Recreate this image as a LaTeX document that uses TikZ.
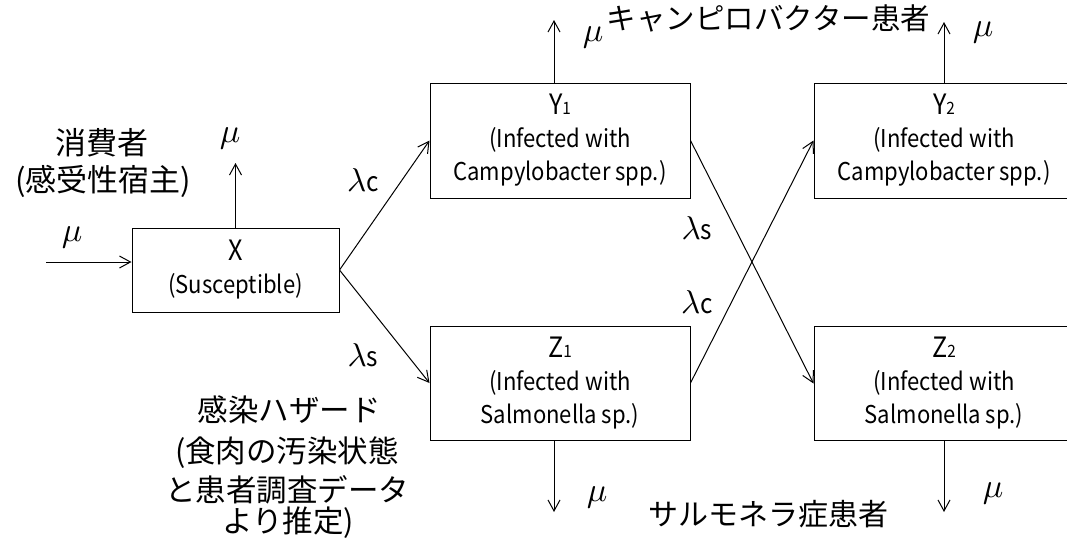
\documentclass[tikz,border=0pt]{standalone}
\usepackage{graphicx}
\usepackage{fontspec}
\newfontfamily\jp{Noto Sans CJK JP}
\newfontfamily\latn[FakeStretch=0.9]{Noto Sans CJK JP}
\usetikzlibrary{arrows.meta}
\newcommand{\boxfont}{\latn\fontsize{24.5}{33}\selectfont}
\newcommand{\titfnt}{\latn\fontsize{28}{33}\selectfont}
\newcommand{\subfnt}{\latn\fontsize{17}{17}\selectfont}
\newcommand{\mulab}{\scalebox{3.4}{$\mu$}}
\newcommand{\lamlab}[1]{\scalebox{3.3}{$\lambda$}{\latn\fontsize{27}{27}\selectfont #1}}
\begin{document}
\begin{tikzpicture}[x=1pt,y=-1pt,
  statebox/.style={draw, line width=1pt, inner sep=0pt, align=center, font=\boxfont},
  arr/.style={line width=1pt, -{Straight Barb[length=11pt,width=12pt,line width=1pt]}},
  lbl/.style={inner sep=0pt, anchor=center},
  jpl/.style={inner sep=0pt, anchor=center, align=center, font=\jp\fontsize{31}{38}\selectfont}]
\useasboundingbox (0,0) rectangle (1067,546);
\fill[white] (0,0) rectangle (1067,546);

% boxes
\node[statebox, minimum width=207pt, minimum height=84pt] (X) at (235.5,270) {{\titfnt X}\\(Susceptible)};
\node[statebox, minimum width=260pt, minimum height=115pt] (Y1) at (560,140.5) {{\titfnt Y{\subfnt 1}}\\(Infected with\\Campylobacter spp.)};
\node[statebox, minimum width=260pt, minimum height=114pt] (Z1) at (560,383) {{\titfnt Z{\subfnt 1}}\\(Infected with\\Salmonella sp.)};
\node[statebox, minimum width=260pt, minimum height=115pt] (Y2) at (944,140.5) {{\titfnt Y{\subfnt 2}}\\(Infected with\\Campylobacter spp.)};
\node[statebox, minimum width=260pt, minimum height=114pt] (Z2) at (944,383.5) {{\titfnt Z{\subfnt 2}}\\(Infected with\\Salmonella sp.)};

% free ends
\coordinate (in0) at (46,262);
\coordinate (xup) at (235.5,163);
\coordinate (y1up) at (554,20);
\coordinate (y2up) at (944,22);
\coordinate (z1dn) at (554,512);
\coordinate (z2dn) at (944,512);

% connectors
\draw[arr] (in0) -- (in0 -| X.west);
\draw[arr] (X.north) -- (xup);
\draw[arr] (X.east) -- (Y1.west);
\draw[arr] (X.east) -- (Z1.west);
\draw[arr] (y1up |- Y1.north) -- (y1up);
\draw[arr] (Y2.north) -- (y2up);
\draw[arr] (Y1.east) -- (Z2.west);
\draw[arr] (Z1.east) -- (Y2.west);
\draw[arr] (z1dn |- Z1.south) -- (z1dn);
\draw[arr] (Z2.south) -- (z2dn);

% labels
\node[lbl] (mu0) at (72,237) {\mulab};
\node[lbl] (mux) at (230,138) {\mulab};
\node[lbl] (lc1) at (363,180) {\lamlab{c}};
\node[lbl] (ls1) at (363,355) {\lamlab{s}};
\node[lbl] (muy1) at (593,37) {\mulab};
\node[lbl] (muy2) at (983,32) {\mulab};
\node[lbl] (ls2) at (697,228) {\lamlab{s}};
\node[lbl] (lc2) at (697,302) {\lamlab{c}};
\node[lbl] (muz1) at (597,497) {\mulab};
\node[lbl] (muz2) at (993,493) {\mulab};

\node[jpl, font=\jp\fontsize{29.5}{36}\selectfont] (camp) at (768.5,18) {キャンピロバクター患者};
\node[jpl, font=\jp\fontsize{30}{36}\selectfont] (salm) at (768.5,514) {サルモネラ症患者};
\node[jpl] (cons1) at (102,143) {消費者};
\node[jpl] (cons2) at (103,181) {(感受性宿主)};
\node[jpl, font=\jp\fontsize{30.5}{36}\selectfont] (haz1) at (289,410) {感染ハザード};
\node[jpl, font=\jp\fontsize{30.5}{36}\selectfont] (haz2) at (287,453) {(食肉の汚染状態};
\node[jpl, font=\jp\fontsize{30.5}{36}\selectfont] (haz3) at (287,490) {と患者調査データ};
\node[jpl, font=\jp\fontsize{30.5}{36}\selectfont] (haz4) at (288,523) {より推定)};
\end{tikzpicture}
\end{document}
